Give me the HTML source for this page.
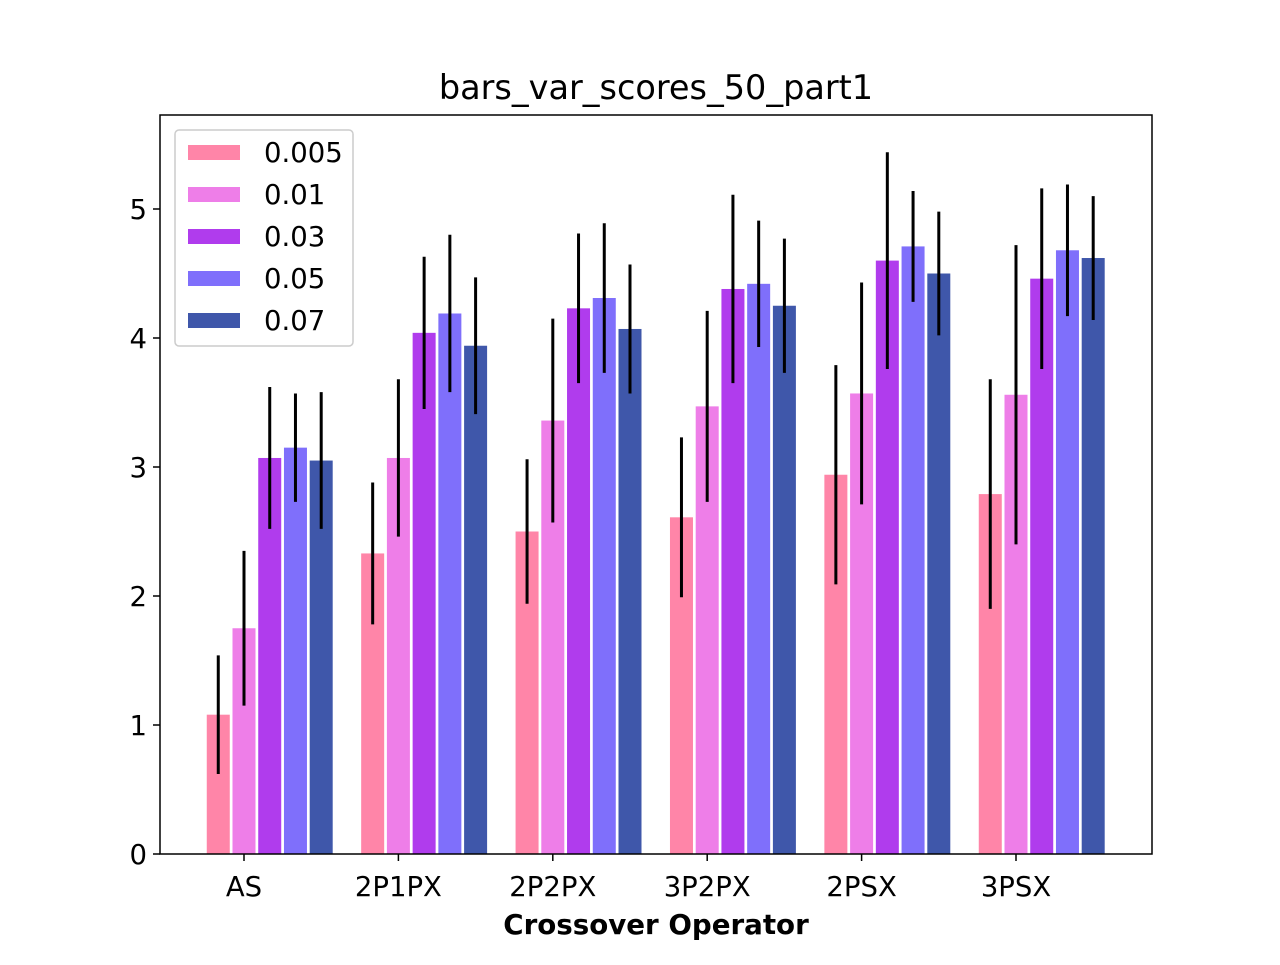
<!DOCTYPE html>
<html><head><meta charset="utf-8"><style>
body{margin:0;background:#fff;}
svg text{font-family:"DejaVu Sans","Liberation Sans",sans-serif;}
</style></head><body>
<svg id="chart" width="1280" height="960" viewBox="0 0 1280 960">
<rect width="1280" height="960" fill="#fff"/>
<text x="656" y="99" font-size="33.5" text-anchor="middle">bars_var_scores_50_part1</text>
<g id="bars"></g>
<g id="axes"></g>
<text x="656" y="934" font-size="27.7" font-weight="bold" text-anchor="middle">Crossover Operator</text>
<g id="legend"></g>
</svg>
<script>
const categories = ["AS","2P1PX","2P2PX","3P2PX","2PSX","3PSX"];
const seriesNames = ["0.005","0.01","0.03","0.05","0.07"];
const colors = ["#ff85a8","#ee7ee8","#b03ced","#7f6ffb","#3f57aa"];
const v005 = [1.08,2.33,2.50,2.61,2.94,2.79];
const v01 = [1.75,3.07,3.36,3.47,3.57,3.56];
const v03 = [3.07,4.04,4.23,4.38,4.60,4.46];
const v05 = [3.15,4.19,4.31,4.42,4.71,4.68];
const v07 = [3.05,3.94,4.07,4.25,4.50,4.62];
const e005 = [0.46,0.55,0.56,0.62,0.85,0.89];
const e01 = [0.60,0.61,0.79,0.74,0.86,1.16];
const e03 = [0.55,0.59,0.58,0.73,0.84,0.70];
const e05 = [0.42,0.61,0.58,0.49,0.43,0.51];
const e07 = [0.53,0.53,0.50,0.52,0.48,0.48];
const yTicks = [0,1,2,3,4,5];
const values=[v005,v01,v03,v05,v07], errs=[e005,e01,e03,e05,e07];
const NS="http://www.w3.org/2000/svg";
const L=160,R=1152,T=115,B=854;
const xs=i=>244+i*154.4;
const ys=v=>854-v*129;
function mk(tag,attrs,parent,text){const e=document.createElementNS(NS,tag);for(const k in attrs)e.setAttribute(k,attrs[k]);if(text!==undefined)e.textContent=text;parent.appendChild(e);return e;}
const bars=document.getElementById('bars'),axes=document.getElementById('axes'),leg=document.getElementById('legend');
const stride=154.4/6,bw=23;
values.forEach((vals,s)=>{vals.forEach((v,i)=>{
 const cx=xs(i)+(s-1)*stride;
 const r=mk('rect',{x:cx-bw/2,y:ys(v),width:bw,height:ys(0)-ys(v),fill:colors[s]},bars);
 
 
 const l=mk('line',{x1:cx,x2:cx,y1:ys(v+errs[s][i]),y2:ys(v-errs[s][i]),stroke:'#000','stroke-width':3},bars);
 
 
});});
const fr=mk('rect',{x:L,y:T,width:R-L,height:B-T,fill:'none',stroke:'#000','stroke-width':1.5},axes);


yTicks.forEach(t=>{
 mk('line',{x1:L-7,x2:L,y1:ys(t),y2:ys(t),stroke:'#000','stroke-width':1.5},axes);
 const tx=mk('text',{x:L-13,y:ys(t)+10,'font-size':27.5,'text-anchor':'end'},axes,String(t));
 
 
});
categories.forEach((c,i)=>{
 mk('line',{x1:xs(i),x2:xs(i),y1:B,y2:B+7,stroke:'#000','stroke-width':1.5},axes);
 const tx=mk('text',{x:xs(i),y:B+42,'font-size':27.5,'text-anchor':'middle'},axes,c);
 
 
});
const lb=mk('rect',{x:175,y:130,width:178,height:216,rx:4,fill:'#fff',stroke:'#ccc','stroke-width':1.5},leg);


seriesNames.forEach((n,s)=>{
 const y=152+s*42;
 const g=mk('g',{},leg);
 
 
 mk('rect',{x:188,y:y-7,width:52,height:15,fill:colors[s]},g);
 mk('text',{x:264,y:y+10,'font-size':27.5},g,n);
});
</script>
</body></html>
